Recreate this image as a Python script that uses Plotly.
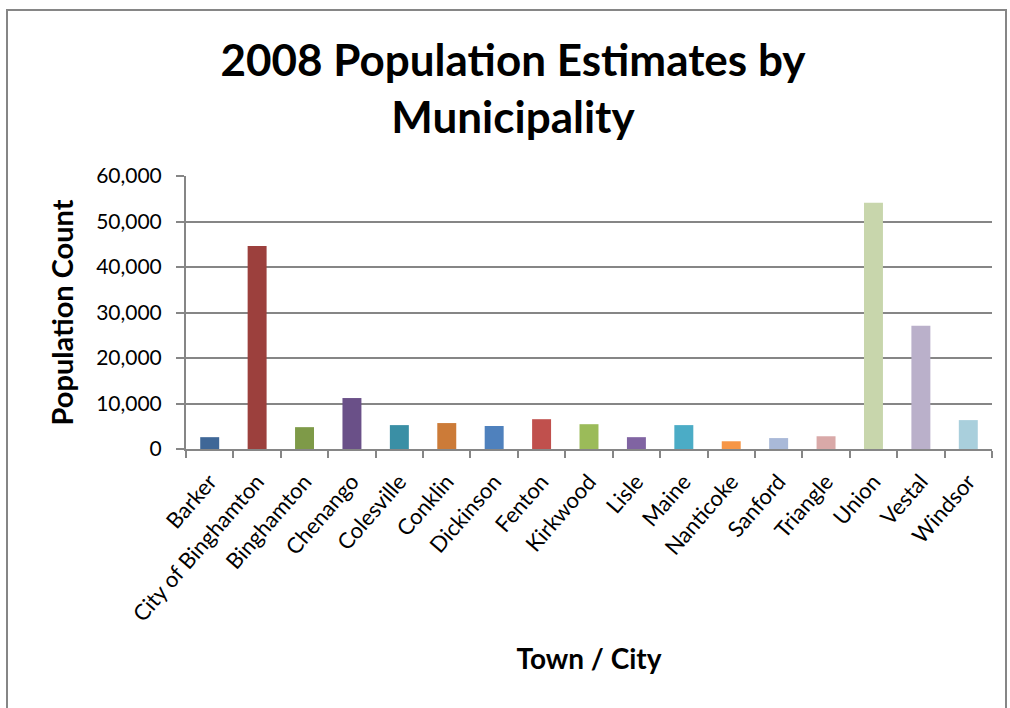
import plotly.graph_objects as go

towns = ["Barker", "City of Binghamton", "Binghamton", "Chenango", "Colesville",
         "Conklin", "Dickinson", "Fenton", "Kirkwood", "Lisle", "Maine",
         "Nanticoke", "Sanford", "Triangle", "Union", "Vestal", "Windsor"]
population = [2600, 44600, 4800, 11200, 5250, 5700, 5050, 6550, 5450, 2600,
              5250, 1700, 2400, 2800, 54100, 27100, 6350]
bar_colors = ["#3F6797", "#9C403D", "#7E9A48", "#6A5088", "#3A8FA5", "#CC7B38",
              "#4F81BD", "#C0504D", "#9BBB59", "#8064A2", "#4BACC6", "#F79646",
              "#A9B9D8", "#D9A9A8", "#C8D6AC", "#BAB0CA", "#A9CFDC"]
y_ticks = [0, 10000, 20000, 30000, 40000, 50000, 60000]

FONT = "Lato, Calibri, sans-serif"
L, R, T, B = 186, 18, 176, 259
W, H = 1010, 708
pw, ph = W - L - R, H - T - B

def px_x(x):
    return (x - L) / pw

def px_y(y):
    return (H - B - y) / ph

fig = go.Figure(go.Bar(x=towns, y=population, marker_color=bar_colors,
                       marker_line_width=0))

fig.update_layout(
    width=W, height=H,
    margin=dict(l=L, r=R, t=T, b=B, autoexpand=False),
    paper_bgcolor="white", plot_bgcolor="white",
    bargap=0.6, showlegend=False,
    font=dict(family=FONT, color="black"),
    title=dict(text="<b>2008 Population Estimates by<br>Municipality</b>",
               x=px_x(513), xref="paper", xanchor="center",
               y=1 - 76 / H, yref="container", yanchor="middle",
               font=dict(size=44, family=FONT, color="black")),
    xaxis=dict(type="category", tickangle=-49, tickfont=dict(size=22),
               showline=True, linecolor="#868686", linewidth=2,
               ticks="outside", tickson="boundaries", ticklen=7,
               tickcolor="#868686", tickwidth=2, showgrid=False,
               ticklabelstandoff=9,
               title=dict(text="<b>Town / City</b>", font=dict(size=28),
                          standoff=24)),
    yaxis=dict(range=[0, 60000], tickvals=y_ticks, tickformat=",",
               tickfont=dict(size=21), showgrid=True, gridcolor="#868686",
               gridwidth=2, showline=True, linecolor="#868686", linewidth=2,
               ticks="outside", ticklen=8, tickcolor="#868686", tickwidth=2,
               ticklabelstandoff=10, zeroline=False,
               title=dict(text="<b>Population Count</b>", font=dict(size=29),
                          standoff=14)),
)

fig.add_shape(type="rect", xref="paper", yref="paper",
              x0=px_x(7), x1=px_x(1006), y0=px_y(720), y1=px_y(10),
              line=dict(color="#868686", width=2), fillcolor="rgba(0,0,0,0)",
              layer="below")

fig.write_html("out.html", config={"displayModeBar": False},
               post_script="document.body.style.margin='0';")
